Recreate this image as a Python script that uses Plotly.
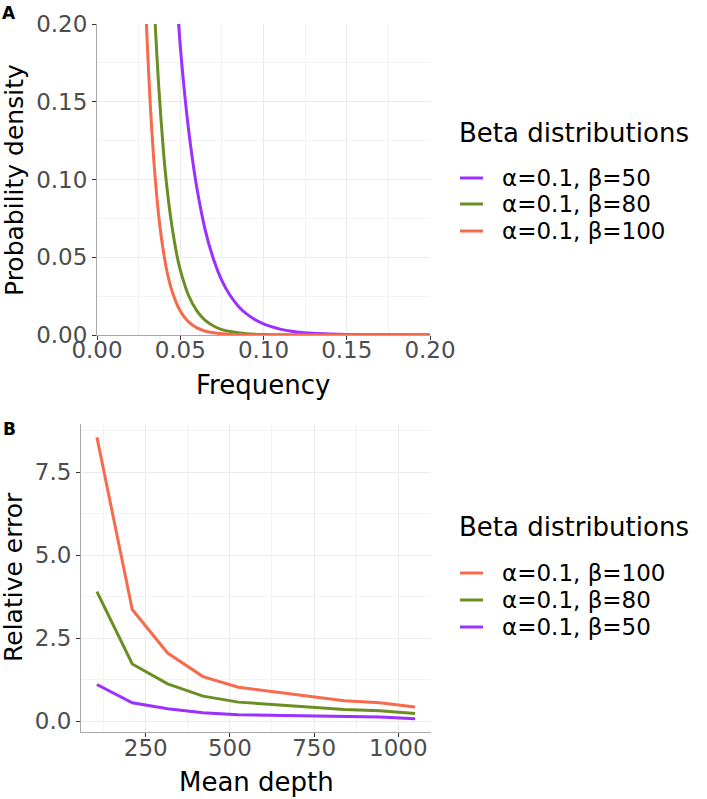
import plotly.graph_objects as go

# Panel A: beta densities
freq_b50 = [0.048, 0.050, 0.052, 0.055, 0.058, 0.060, 0.065, 0.070, 0.075, 0.080, 0.085,
            0.090, 0.100, 0.110, 0.120, 0.130, 0.140, 0.150, 0.170, 0.200]
dens_b50 = [0.215, 0.186, 0.162, 0.132, 0.108, 0.0944, 0.0675, 0.0487, 0.035, 0.0254, 0.0184,
            0.0134, 0.0071, 0.0038, 0.0020, 0.0011, 0.0006, 0.0003, 0.0001, 0.0]

freq_b80 = [0.034, 0.035, 0.037, 0.040, 0.042, 0.045, 0.048, 0.050, 0.055, 0.060, 0.065,
            0.070, 0.075, 0.080, 0.090, 0.100, 0.120, 0.150, 0.200]
dens_b80 = [0.222, 0.199, 0.161, 0.117, 0.095, 0.070, 0.0513, 0.0419, 0.0254, 0.0155, 0.0094,
            0.0058, 0.0035, 0.0022, 0.0008, 0.0003, 0.00004, 0.0, 0.0]

freq_b100 = [0.029, 0.030, 0.032, 0.034, 0.036, 0.038, 0.040, 0.042, 0.045, 0.050, 0.055,
             0.060, 0.065, 0.070, 0.075, 0.080, 0.090, 0.100, 0.150, 0.200]
dens_b100 = [0.219, 0.192, 0.148, 0.114, 0.088, 0.068, 0.053, 0.041, 0.0285, 0.0154, 0.0084,
             0.0046, 0.0025, 0.0014, 0.0008, 0.0004, 0.0001, 0.00003, 0.0, 0.0]

# Panel B: relative error vs mean depth
depth = [105, 210, 315, 420, 525, 630, 735, 840, 945, 1050]
err_b100 = [8.55, 3.36, 2.05, 1.34, 1.02, 0.88, 0.75, 0.61, 0.55, 0.42]
err_b80 = [3.90, 1.72, 1.12, 0.75, 0.57, 0.49, 0.41, 0.35, 0.31, 0.23]
err_b50 = [1.10, 0.55, 0.37, 0.25, 0.19, 0.17, 0.15, 0.13, 0.12, 0.07]

labels = {50: "α=0.1, β=50", 80: "α=0.1, β=80", 100: "α=0.1, β=100"}
colors = {50: "#9B30FF", 80: "#6B8E23", 100: "#F86A4C"}
legend_title = "Beta distributions"

W, H = 707, 799
FONT = "DejaVu Sans"


def px_x(p):
    return p / W


def px_y(p):
    return 1 - p / H


fig = go.Figure()

for b, xs, ys in [(50, freq_b50, dens_b50), (80, freq_b80, dens_b80), (100, freq_b100, dens_b100)]:
    fig.add_trace(go.Scatter(x=xs, y=ys, mode="lines", name=labels[b], showlegend=False,
                             line=dict(color=colors[b], width=3, shape="spline", smoothing=0.8),
                             xaxis="x", yaxis="y"))

for b, ys in [(100, err_b100), (80, err_b80), (50, err_b50)]:
    fig.add_trace(go.Scatter(x=depth, y=ys, mode="lines", name=labels[b], showlegend=False,
                             line=dict(color=colors[b], width=3),
                             xaxis="x2", yaxis="y2"))

axis_style = dict(showline=True, linecolor="#A8A8A8", linewidth=1,
                  ticks="outside", ticklen=4, tickcolor="#333333", tickwidth=1,
                  showgrid=True, gridcolor="#EBEBEB", gridwidth=1, zeroline=False,
                  tickfont=dict(family=FONT, size=23, color="#4D4D4D"),
                  automargin=False)
minor_style = dict(showgrid=True, gridcolor="#F3F3F3", ticks="")

fig.update_layout(
    width=W, height=H,
    margin=dict(l=0, r=0, t=0, b=0),
    paper_bgcolor="white", plot_bgcolor="white",
    font=dict(family=FONT, color="black"),
    showlegend=False,
    xaxis=dict(axis_style, domain=[px_x(97), px_x(430)], range=[0, 0.2], dtick=0.05,
               tickformat=".2f", anchor="y", ticklabelstandoff=-10,
               minor=dict(minor_style, dtick=0.025)),
    yaxis=dict(axis_style, domain=[px_y(335), px_y(24)], range=[0, 0.2], dtick=0.05,
               tickformat=".2f", anchor="x",
               minor=dict(minor_style, dtick=0.025)),
    xaxis2=dict(axis_style, domain=[px_x(81), px_x(431)], range=[57.75, 1097.25],
                tickvals=[250, 500, 750, 1000], anchor="y2", ticklabelstandoff=-9,
                minor=dict(minor_style, tick0=125, dtick=250)),
    yaxis2=dict(axis_style, domain=[px_y(732), px_y(424)], range=[-0.33, 8.95], dtick=2.5,
                tickformat=".1f", anchor="x2",
                minor=dict(minor_style, dtick=1.25)),
)

annots = [
    dict(text="<b>A</b>", x=px_x(9), y=px_y(13), font=dict(size=17)),
    dict(text="<b>B</b>", x=px_x(9), y=px_y(429), font=dict(size=17)),
    dict(text="Frequency", x=px_x(263), y=px_y(385), font=dict(size=26)),
    dict(text="Mean depth", x=px_x(256), y=px_y(782), font=dict(size=26)),
    dict(text="Probability density", x=px_x(14), y=px_y(180), font=dict(size=25), textangle=-90),
    dict(text="Relative error", x=px_x(13), y=px_y(577), font=dict(size=25), textangle=-90),
]
for a in annots:
    fig.add_annotation(xref="paper", yref="paper", showarrow=False,
                       xanchor="center", yanchor="middle", **a)

# legends drawn as key lines + labels (ggplot-style spacing)
legend_blocks = [
    (133, [(50, 178), (80, 204), (100, 231)]),
    (527, [(100, 573), (80, 600), (50, 627)]),
]
for title_y, items in legend_blocks:
    fig.add_annotation(xref="paper", yref="paper", showarrow=False, text=legend_title,
                       x=px_x(457), y=px_y(title_y), xanchor="left", yanchor="middle",
                       font=dict(size=26))
    for b, iy in items:
        fig.add_shape(type="line", xref="paper", yref="paper",
                      x0=px_x(460), x1=px_x(483), y0=px_y(iy), y1=px_y(iy),
                      line=dict(color=colors[b], width=3))
        fig.add_annotation(xref="paper", yref="paper", showarrow=False, text=labels[b],
                           x=px_x(500), y=px_y(iy), xanchor="left", yanchor="middle",
                           font=dict(size=23))

fig.write_html("out.html", config={"displayModeBar": False},
               post_script="document.body.style.margin='0px';")
